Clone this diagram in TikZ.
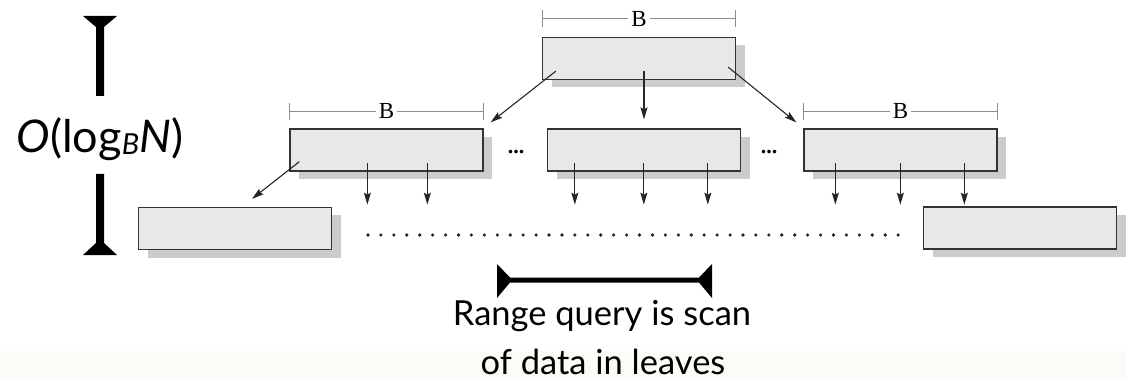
\documentclass[tikz,border=0pt]{standalone}
\usepackage{fontspec}
\setmainfont{Liberation Serif}
\newfontfamily\talkfont{Lato}
\usetikzlibrary{arrows.meta,shadows,calc}
\definecolor{cream}{HTML}{FCFBF6}
\begin{document}
\begin{tikzpicture}[x=1pt,y=-1pt,
  block/.style={draw=black!80, line width=1.3pt, fill=black!9,
    minimum width=193pt, minimum height=42pt, inner sep=0pt,
    drop shadow={shadow xshift=9pt, shadow yshift=-8pt, fill=black!20, opacity=1}},
  ptr/.style={-{Stealth[length=12pt,width=7pt,inset=2pt]}, line width=1.1pt, black!85},
  dim/.style={{Bar[width=17pt]}-{Bar[width=17pt]}, draw=black!45, line width=0.9pt},
  dimlabel/.style={fill=white, inner sep=3pt, font=\fontsize{23}{23}\selectfont},
  gap/.style={font=\fontsize{22}{22}\selectfont\bfseries, anchor=base, inner sep=0pt},
  bigtext/.style={font=\talkfont\fontsize{34.5}{34.5}\selectfont, anchor=base, inner sep=0pt},
  heavy/.style={fill=black}
]
\useasboundingbox (0,0) rectangle (1126,379);
\fill[cream] (0,351) rectangle (1126,379);

% root
\node[block] (r) at (639,58.5) {};
% inner level
\node[block] (l) at (386.5,150) {};
\node[block] (m) at (644,150) {};
\node[block] (rt) at (900.5,150) {};
% leaves
\node[block] (ll) at (235,228.5) {};
\node[block] (rl) at (1020,228) {};

% block size markers
\draw[dim] ($(r.north west)+(0,-18)$) -- node[dimlabel] {B} ($(r.north east)+(0,-18)$);
\draw[dim] ($(l.north west)+(0,-17)$) -- node[dimlabel] {B} ($(l.north east)+(0,-17)$);
\draw[dim] ($(rt.north west)+(0,-17)$) -- node[dimlabel] {B} ($(rt.north east)+(0,-17)$);

% pointers from the root
\draw[ptr] ($(r.south west)+(14,-9)$) -- ($(l.north east)+(7,-6)$);
\draw[ptr] ($(r.south)+(5,-9)$) -- ($(m.north)+(0,-9)$);
\draw[ptr] ($(r.south east)+(-8,-13)$) -- ($(rt.north west)+(-7,-6)$);

% pointers from the inner level
\draw[ptr] ($(l.south west)+(10,-10)$) -- ($(ll.north)+(17,-8)$);
\foreach \dx in {78,138} \draw[ptr] ($(l.south west)+(\dx,-9)$) -- ++(0,42);
\foreach \dx in {28,97,161} \draw[ptr] ($(m.south west)+(\dx,-9)$) -- ++(0,42);
\foreach \dx in {32,97,161} \draw[ptr] ($(rt.south west)+(\dx,-9)$) -- ++(0,42);

% omitted siblings
\node[gap] (e1) at (516,154) {...};
\node[gap] (e2) at (769,154) {...};

% omitted leaves
\foreach \i in {0,...,41} \fill[black!85] (368+\i*12.93,235) circle (1.8);

% tree height
\fill[heavy] (83,16) -- (117,16) -- (104,27) -- (104,96) -- (96,96) -- (96,27) -- cycle;
\fill[heavy] (96,174) -- (104,174) -- (104,243) -- (117,255) -- (83,255) -- (96,243) -- cycle;
\node[font=\talkfont\fontsize{45}{45}\selectfont, anchor=base, inner sep=0pt] (h) at (100,153)
  {\textit{O}(log\raisebox{-2pt}{\fontsize{29}{29}\selectfont\itshape B}\textit{N})};

% range scan
\fill[heavy] (497,264) -- (510,277.5) -- (699,277.5) -- (712,264) -- (712,298) -- (699,282.5) -- (510,282.5) -- (497,298) -- cycle;
\node[bigtext] (q1) at (602,325) {Range query is scan};
\node[bigtext] (q2) at (603,374) {of data in leaves};
\end{tikzpicture}
\end{document}
